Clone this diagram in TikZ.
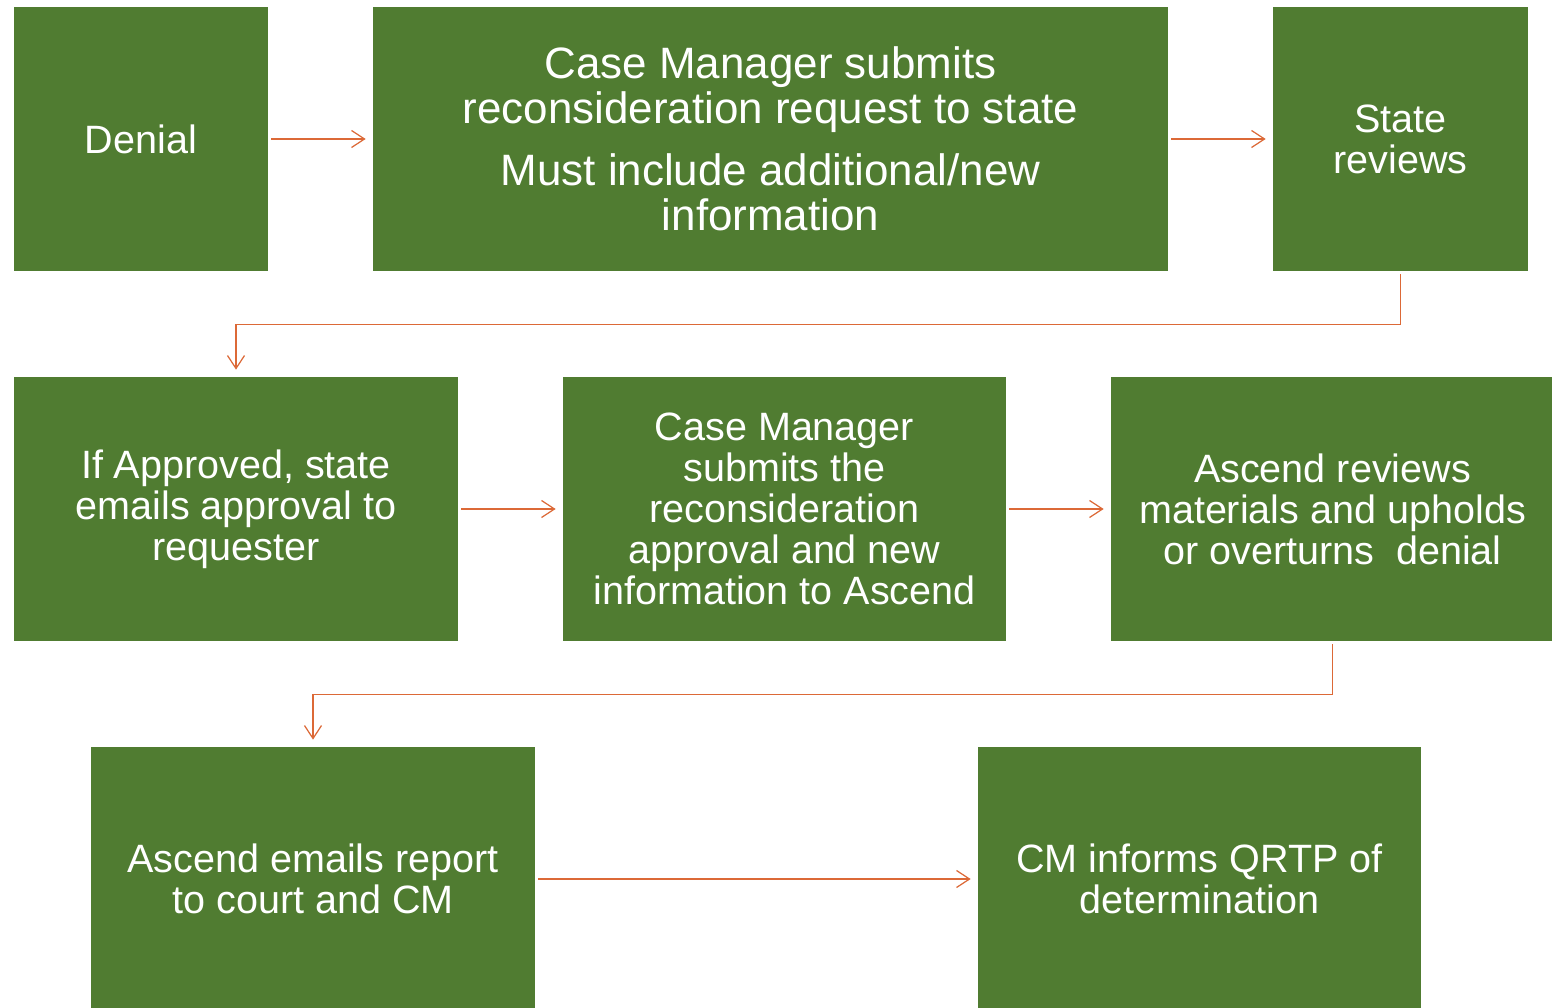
\documentclass[tikz,border=0pt]{standalone}
\usepackage{fontspec}
\setmainfont{Liberation Sans}
\usetikzlibrary{arrows.meta}

\definecolor{boxgreen}{RGB}{80,124,49}
\definecolor{flowline}{RGB}{220,105,55}

\tikzset{
  stepbox/.style={fill=boxgreen, draw=none, text=white, align=center,
    minimum height=5.28cm, inner sep=0pt,
    font=\fontsize{22.5}{23.4}\selectfont},
  flow/.style={draw=flowline, line width=0.7pt,
    -{Straight Barb[length=0.26cm, width=0.34cm]},
    shorten <=0.06cm, shorten >=0.14cm}
}

\begin{document}
\begin{tikzpicture}
\def\ya{-2.78};
\def\yb{-10.18};
\def\yc{-17.58};

\useasboundingbox (0,0) rectangle (31.04,-20.16);

\node[stepbox, minimum width=5.08cm] (denial) at (2.82, \ya) {Denial};
\node[stepbox, minimum width=15.9cm, font=\fontsize{25}{25.5}\selectfont] (submit) at (15.41, \ya)
  {Case Manager submits\\reconsideration request to state\\[0.35cm]Must include additional/new\\information};
\node[stepbox, minimum width=5.1cm] (state) at (28.01, \ya) {State\\reviews};

\node[stepbox, minimum width=8.88cm] (approved) at (4.72, \yb) {If Approved, state\\emails approval to\\requester};
\node[stepbox, minimum width=8.86cm] (forward) at (15.69, \yb) {Case Manager\\submits the\\reconsideration\\approval and new\\information to Ascend};
\node[stepbox, minimum width=8.86cm] (ascend) at (26.65, \yb) {Ascend reviews\\materials and upholds\\or overturns~ denial};

\node[stepbox, minimum width=8.88cm] (report) at (6.26, \yc) {Ascend emails report\\to court and CM};
\node[stepbox, minimum width=8.86cm] (inform) at (23.99, \yc) {CM informs QRTP of\\determination};

\draw[flow] (denial) -- (submit);
\draw[flow] (submit) -- (state);
\draw[flow] (state.south) -- ++(0,-1.06) -| (approved.north);
\draw[flow] (approved) -- (forward);
\draw[flow] (forward) -- (ascend);
\draw[flow] (ascend.south) -- ++(0,-1.06) -| (report.north);
\draw[flow] (report) -- (inform);

\end{tikzpicture}
\end{document}
